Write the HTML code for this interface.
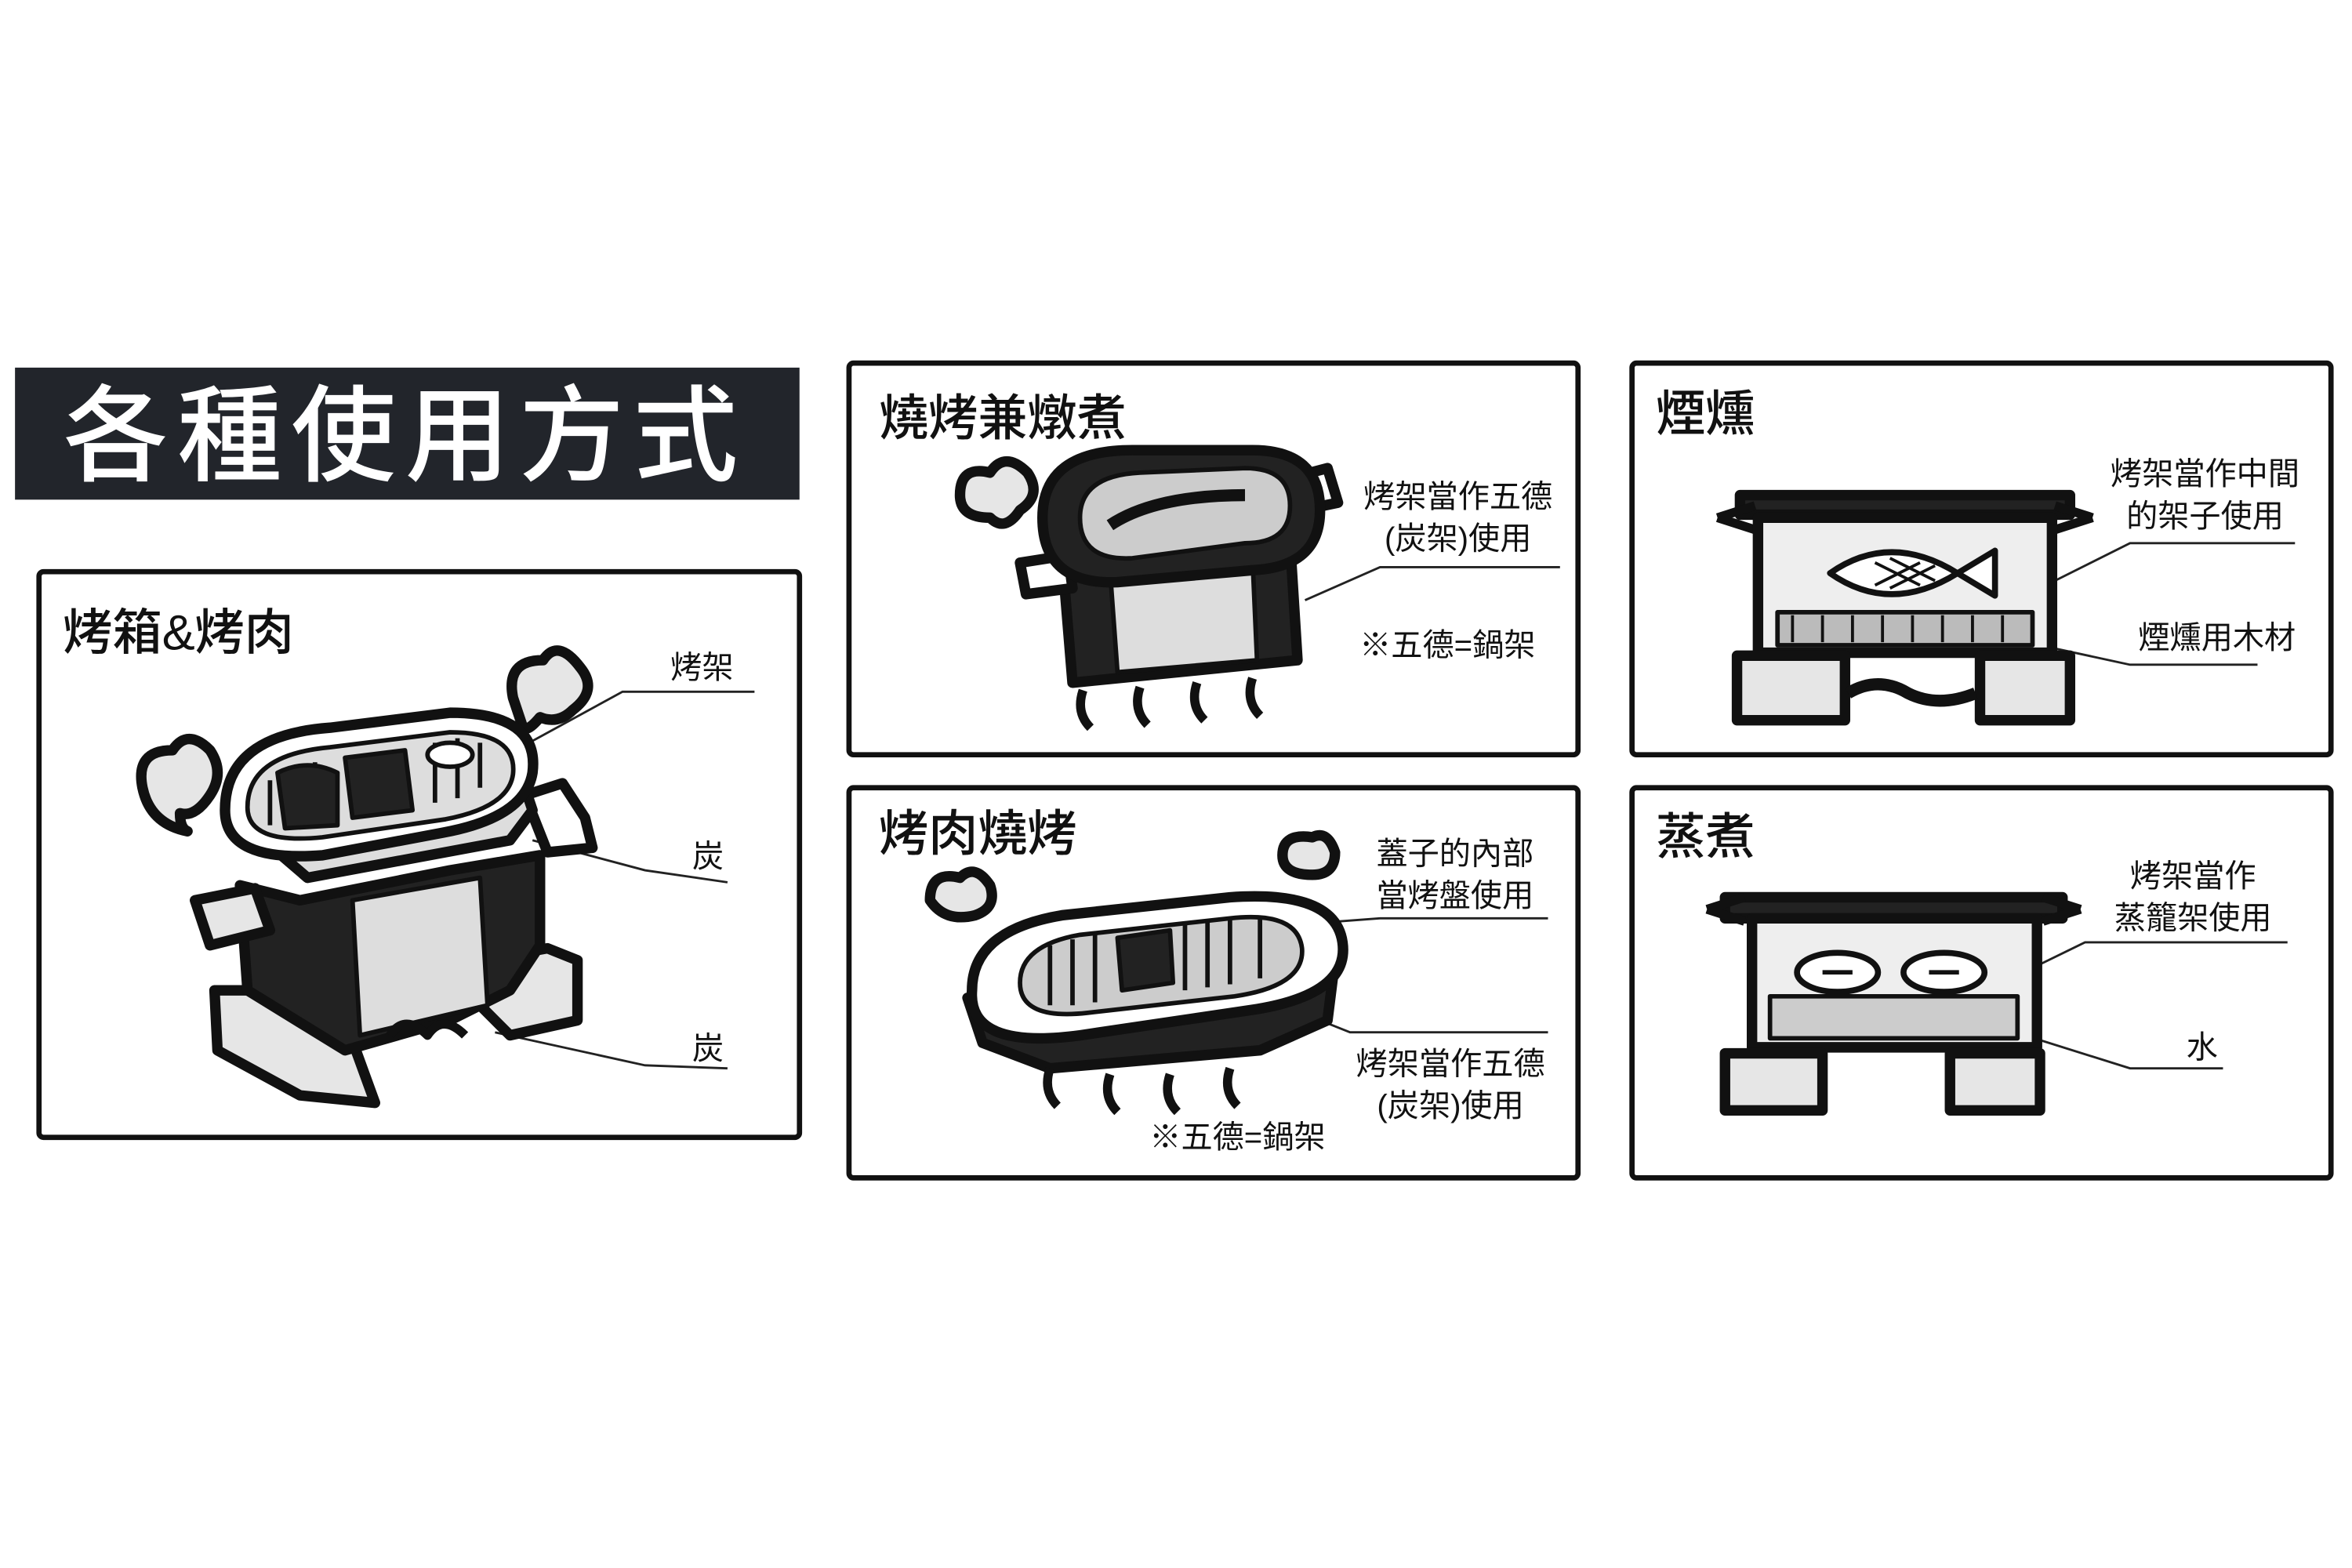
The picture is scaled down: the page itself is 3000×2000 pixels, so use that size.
<!DOCTYPE html>
<html><head><meta charset="utf-8"><style>
html,body{margin:0;padding:0;background:#fff;}
svg{display:block}
text{font-family:"Liberation Sans","Noto Sans CJK TC",sans-serif;fill:#111;}
</style></head><body>
<svg width="3000" height="2000" viewBox="0 0 1568 1045" preserveAspectRatio="none" xmlns="http://www.w3.org/2000/svg">
<rect width="1568" height="1045" fill="#fff"/>
<rect x="10" y="245" width="523" height="88" fill="#22252b"/>
<text x="270" y="315" font-size="70" font-weight="500" text-anchor="middle" style="fill:#fff" letter-spacing="6">各種使用方式</text>
<g fill="none" stroke="#111" stroke-width="3.5">
<rect x="26" y="381" width="507" height="377" rx="3"/>
<rect x="566" y="242" width="486" height="261" rx="3"/>
<rect x="1088" y="242" width="466" height="261" rx="3"/>
<rect x="566" y="525" width="486" height="260" rx="3"/>
<rect x="1088" y="525" width="466" height="260" rx="3"/>
</g>
<g font-size="33" font-weight="500">
<text x="42" y="433">烤箱&amp;烤肉</text>
<text x="586" y="290">燒烤兼燉煮</text>
<text x="1104" y="287">煙燻</text>
<text x="586" y="567">烤肉燒烤</text>
<text x="1104" y="569">蒸煮</text>
</g>
<g font-size="21" text-anchor="middle">
<text x="468" y="452">烤架</text>
<text x="472" y="578">炭</text>
<text x="472" y="706">炭</text>
<text x="972" y="338">烤架當作五德</text>
<text x="972" y="366">(炭架)使用</text>
<text x="965" y="437">※五德=鍋架</text>
<text x="1470" y="323">烤架當作中間</text>
<text x="1470" y="351">的架子使用</text>
<text x="1478" y="432">煙燻用木材</text>
<text x="970" y="576">蓋子的內部</text>
<text x="970" y="604">當烤盤使用</text>
<text x="967" y="716">烤架當作五德</text>
<text x="967" y="744">(炭架)使用</text>
<text x="825" y="765">※五德=鍋架</text>
<text x="1462" y="591">烤架當作</text>
<text x="1462" y="619">蒸籠架使用</text>
<text x="1468" y="705">水</text>
</g>
<g fill="none" stroke="#222" stroke-width="1.5">
<path d="M340 502 L415 461 L503 461"/>
<path d="M355 560 L430 580 L485 588"/>
<path d="M330 688 L430 710 L485 712"/>
<path d="M870 400 L920 378 L1040 378"/>
<path d="M1360 392 L1420 362 L1530 362"/>
<path d="M1360 430 L1420 443 L1505 443"/>
<path d="M880 615 L920 612 L1032 612"/>
<path d="M870 676 L900 688 L1032 688"/>
<path d="M1345 650 L1390 628 L1525 628"/>
<path d="M1350 690 L1420 712 L1482 712"/>
</g>
<g stroke="#111" stroke-width="7" stroke-linejoin="round" fill="#e6e6e6">
<!-- box1 -->
<path d="M95 525 q-5-25 20-25 q10-15 25 0 q10 15 0 30 q-10 15-20 12 q0 10 5 12 q-25-5-30-29z"/>
<path d="M342 465 q-5-25 20-25 q10-15 25 5 q12 15-5 28 q-10 10-22 5 q-10 12-12 5z"/>
<path d="M143 660 L185 660 L230 680 L250 735 L200 730 L145 700z"/>
<path d="M320 640 L365 632 L385 640 L385 680 L340 690 L320 670z"/>
<path d="M160 590 L165 660 L230 700 L300 680 L340 660 L360 630 L360 570 L300 580 L200 600z" fill="#222"/>
<path d="M235 600 L320 585 L325 670 L240 690z" fill="#ddd" stroke-width="3"/>
<path d="M130 600 L170 592 L180 620 L140 630z"/>
<path d="M350 530 L375 522 L390 545 L395 565 L365 568z" fill="#fff"/>
<path d="M170 555 L205 585 L340 560 L355 540 L350 525z" fill="#ddd"/>
<path d="M150 540 q0-50 70-55 L300 475 q60 0 55 40 q-5 30-60 40 L215 570 q-65 5-65-30z" fill="#fff"/>
<path d="M165 538 q0-35 55-40 L300 488 q45 0 42 28 q-3 22-45 30 L215 558 q-50 5-50-20z" fill="#ddd" stroke-width="3"/>
<g stroke-width="3"><path d="M180 520 v30 M195 512 v40 M210 508 v42 M290 495 v40 M305 492 v40 M320 495 v30"/></g>
<path d="M185 515 q20-10 40 0 L225 550 L190 552z" fill="#222" stroke-width="3"/>
<path d="M230 505 L270 500 L275 540 L235 545z" fill="#222" stroke-width="3"/>
<ellipse cx="300" cy="503" rx="15" ry="8" fill="#fff" stroke-width="3"/>
<path d="M260 690 q10-15 25 0 q10-15 25 0" fill="none" stroke-width="6"/>
<!-- box2 -->
<path d="M640 330 q0-20 20-15 q10-15 25 0 q10 15-5 25 q-10 15-20 5 q-20 0-20-15z"/>
<path d="M708 370 L860 360 L865 440 L715 455z" fill="#222"/>
<path d="M740 380 L835 372 L838 440 L745 448z" fill="#ddd" stroke-width="3"/>
<path d="M680 375 L712 370 L715 392 L684 396z" fill="#fff"/>
<path d="M862 318 L885 312 L892 335 L868 340z" fill="#fff"/>
<path d="M695 345 q0-45 60-45 L835 300 q45 0 45 40 q0 38-45 40 L745 388 q-50 2-50-43z" fill="#222"/>
<path d="M720 345 q0-28 40-30 L830 312 q30 0 30 25 q0 25-30 25 L755 372 q-35 2-35-27z" fill="#ccc" stroke-width="3"/>
<path d="M740 350 q30-20 90-20" fill="none" stroke-width="8"/>
<path d="M722 460 q-5 15 5 25 M760 458 q-5 15 5 25 M798 455 q-5 15 5 25 M835 452 q-5 15 5 25" fill="none" stroke-width="6"/>
<!-- box3 -->
<path d="M1160 330 L1380 330 L1380 343 L1160 343z" fill="#222"/>
<path d="M1145 345 l25 -8 M1145 345 l25 8 M1395 345 l-25 -8 M1395 345 l-25 8" fill="none" stroke-width="6"/>
<path d="M1172 345 L1368 345 L1368 435 L1172 435z" fill="#eee"/>
<path d="M1220 382 q40-28 85 0 q-45 28-85 0z M1305 382 l25-15 l0 30z" fill="#fff" stroke-width="4"/>
<path d="M1250 375 l30 15 M1260 372 l30 15 M1250 390 l30-15 M1260 392 l30-15" stroke-width="2" fill="none"/>
<rect x="1185" y="408" width="170" height="22" fill="#bbb" stroke-width="3"/>
<path d="M1195 410 v18 M1215 410 v18 M1235 410 v18 M1255 410 v18 M1275 410 v18 M1295 410 v18 M1315 410 v18 M1335 410 v18" stroke-width="2"/>
<rect x="1158" y="437" width="72" height="43"/>
<rect x="1320" y="437" width="60" height="43"/>
<path d="M1232 462 q20-12 40 0 q20 10 45 0" fill="none" stroke-width="8"/>
<!-- box4 -->
<path d="M620 600 q0-20 20-15 q10-10 20 5 q5 15-10 20 q-20 5-30-10z"/>
<path d="M855 570 q0-15 20-12 q10-5 15 10 q0 15-15 15 q-20 0-20-13z"/>
<path d="M645 665 L655 695 L700 712 L840 700 L885 680 L890 640z" fill="#222"/>
<path d="M648 660 q0-40 60-50 L820 598 q70-5 75 30 q5 35-60 45 L720 690 q-75 10-72-30z" fill="#fff"/>
<path d="M680 655 q0-25 40-32 L820 612 q45-5 48 20 q2 25-45 32 L725 675 q-45 5-45-20z" fill="#ccc" stroke-width="3"/>
<g stroke-width="3"><path d="M700 630 v40 M715 626 v44 M730 622 v46 M790 615 v45 M805 613 v45 M820 612 v44 M840 612 v40"/></g>
<path d="M745 625 L780 620 L782 655 L748 660z" fill="#222" stroke-width="3"/>
<path d="M700 712 q-5 15 5 25 M740 716 q-5 15 5 25 M780 716 q-5 15 5 25 M820 712 q-5 15 5 25" fill="none" stroke-width="6"/>
<!-- box5 -->
<path d="M1150 598 L1375 598 L1375 612 L1150 612z" fill="#222"/>
<path d="M1138 606 l25 -8 M1138 606 l25 8 M1387 606 l-25 -8 M1387 606 l-25 8" fill="none" stroke-width="6"/>
<path d="M1168 612 L1358 612 L1358 698 L1168 698z" fill="#eee"/>
<ellipse cx="1225" cy="648" rx="27" ry="13" fill="#fff" stroke-width="4"/>
<ellipse cx="1296" cy="648" rx="27" ry="13" fill="#fff" stroke-width="4"/>
<path d="M1215 648 h20 M1286 648 h20" stroke-width="3"/>
<rect x="1180" y="664" width="165" height="28" fill="#ccc" stroke-width="3"/>
<rect x="1150" y="702" width="65" height="38"/>
<rect x="1300" y="702" width="60" height="38"/>
</g>
</svg>
</body></html>
